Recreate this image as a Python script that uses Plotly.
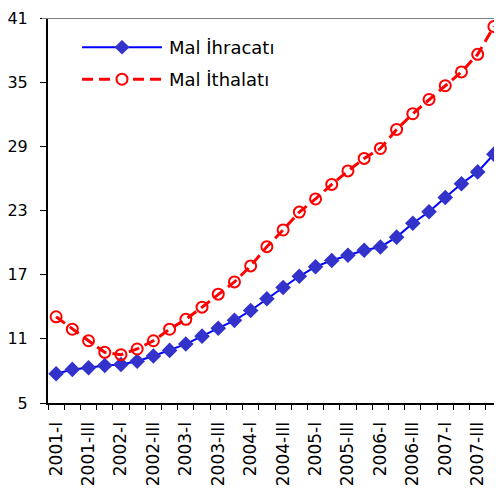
import plotly.graph_objects as go

quarters = [f"{y}-{q}" for y in range(2001, 2008) for q in ["I", "II", "III", "IV"]]
tick_text = [q if i % 2 == 0 else "" for i, q in enumerate(quarters)]

ihracat = [7.74, 8.14, 8.30, 8.51, 8.60, 8.91, 9.40, 9.92, 10.51, 11.25, 11.99, 12.73,
           13.65, 14.75, 15.8, 16.85, 17.74, 18.33, 18.82, 19.28, 19.59, 20.51, 21.81,
           22.88, 24.21, 25.50, 26.61, 28.27]
ithalat = [13.06, 11.90, 10.82, 9.74, 9.52, 10.05, 10.82, 11.90, 12.82, 13.96, 15.18,
           16.32, 17.82, 19.62, 21.18, 22.85, 24.08, 25.44, 26.70, 27.87, 28.80, 30.58,
           32.05, 33.38, 34.67, 35.96, 37.60, 40.20]
series_names = ["Mal İhracatı", "Mal İthalatı"]
y_ticks = [5, 11, 17, 23, 29, 35, 41]

FONT = "DejaVu Sans, sans-serif"
BLUE_LINE, BLUE_MARK, RED = "#0000FF", "#3333CC", "#FF0000"
RED_DASH = "11px,6px"

fig = go.Figure()
fig.add_trace(go.Scatter(
    x=quarters, y=ihracat, name=series_names[0], mode="lines+markers",
    line=dict(color=BLUE_LINE, width=2),
    marker=dict(symbol="diamond", size=12, color=BLUE_MARK, line=dict(width=0)),
    showlegend=False, cliponaxis=False,
))
fig.add_trace(go.Scatter(
    x=quarters, y=ithalat, name=series_names[1], mode="lines+markers",
    line=dict(color=RED, width=3, dash=RED_DASH),
    marker=dict(symbol="circle-open", size=11, color=RED, line=dict(width=2)),
    showlegend=False, cliponaxis=False,
))

# top border line at the axis maximum
fig.add_shape(type="line", xref="paper", yref="y", x0=-0.013, x1=1,
              y0=y_ticks[-1], y1=y_ticks[-1],
              line=dict(color="#808080", width=2), layer="above")

# hand-drawn legend (long line samples as in the reference)
lx0, lx1, lxm, ltx = 0.075, 0.251, 0.163, 0.262
ly = [0.924, 0.841]
ddx, ddy = 0.0165, 0.0187
cdx, cdy = 0.0121, 0.0143
fig.add_shape(type="line", xref="paper", yref="paper", x0=lx0, x1=lx1, y0=ly[0], y1=ly[0],
              line=dict(color=BLUE_LINE, width=2))
fig.add_shape(type="path", xref="paper", yref="paper",
              path=f"M {lxm},{ly[0]+ddy} L {lxm+ddx},{ly[0]} L {lxm},{ly[0]-ddy} L {lxm-ddx},{ly[0]} Z",
              fillcolor=BLUE_MARK, line=dict(width=0))
fig.add_shape(type="line", xref="paper", yref="paper", x0=lx0, x1=lx1, y0=ly[1], y1=ly[1],
              line=dict(color=RED, width=3, dash=RED_DASH))
fig.add_shape(type="circle", xref="paper", yref="paper",
              x0=lxm - cdx, x1=lxm + cdx, y0=ly[1] - cdy, y1=ly[1] + cdy,
              fillcolor="white", line=dict(color=RED, width=2))
for name, yy in zip(series_names, ly):
    fig.add_annotation(x=ltx, y=yy, xref="paper", yref="paper", text=name,
                       showarrow=False, xanchor="left", yanchor="middle",
                       font=dict(family=FONT, size=18, color="black"))

# body margin of the page is 8px: compensate so the plot area sits where the reference has it
fig.update_layout(
    width=494, height=490,
    margin=dict(l=40, r=0, t=10, b=95, pad=0),
    paper_bgcolor="white", plot_bgcolor="white",
    font=dict(family=FONT, size=16, color="black"),
    showlegend=False,
    xaxis=dict(
        type="category", categoryorder="array", categoryarray=quarters,
        range=[-0.5, 27.5], tickmode="array", tickvals=quarters, ticktext=tick_text,
        tickangle=-90, tickson="boundaries", ticks="outside", ticklen=5,
        tickcolor="black", showline=True, linecolor="black", linewidth=2,
        showgrid=False, zeroline=False, tickfont=dict(size=17),
        ticklabelstandoff=10, automargin=False, ticklabeloverflow="allow",
    ),
    yaxis=dict(
        range=[y_ticks[0], y_ticks[-1]], tickmode="array", tickvals=y_ticks,
        ticks="outside", ticklen=6, tickcolor="black", showline=True,
        linecolor="black", linewidth=2, showgrid=False, zeroline=False,
        tickfont=dict(size=16), ticklabelstandoff=9, automargin=False,
        ticklabeloverflow="allow",
    ),
)

fig.write_html("out.html")
